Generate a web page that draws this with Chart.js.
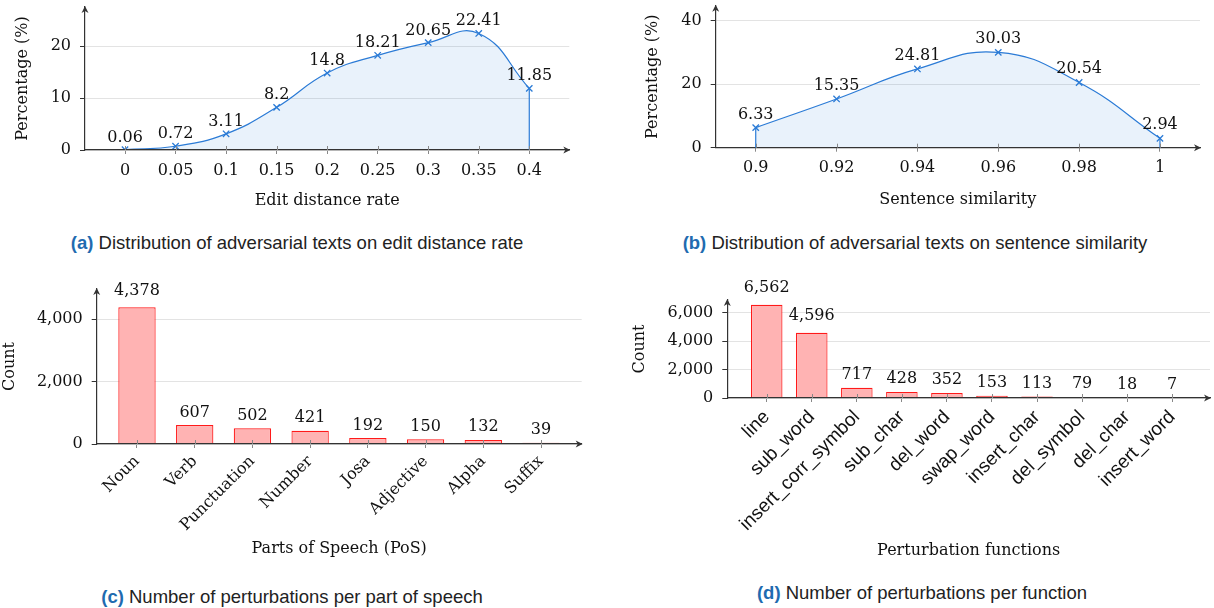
<!DOCTYPE html>
<html>
<head>
<meta charset="utf-8">
<title>Adversarial text statistics</title>
<script src="https://cdn.jsdelivr.net/npm/chart.js@4.4.1/dist/chart.umd.min.js"></script>
<style>
  html, body { margin: 0; padding: 0; background: #fff; }
  body { width: 1214px; height: 608px; position: relative; overflow: hidden; }
  canvas { position: absolute; }
  .caption {
    position: absolute;
    transform: translate(-50%, -50%);
    white-space: nowrap;
    font-family: "Liberation Sans", Arial, sans-serif;
    font-size: 18.5px;
    color: #222;
  }
  .caption b { color: #1f6bb0; }
</style>
</head>
<body>
<canvas id="chartA" width="600" height="225" style="left:0;top:0"></canvas>
<canvas id="chartB" width="604" height="225" style="left:610px;top:0"></canvas>
<canvas id="chartC" width="600" height="300" style="left:0;top:270px"></canvas>
<canvas id="chartD" width="604" height="300" style="left:610px;top:270px"></canvas>

<div class="caption" style="left:297px;top:243px"><b>(a)</b> Distribution of adversarial texts on edit distance rate</div>
<div class="caption" style="left:915px;top:243px"><b>(b)</b> Distribution of adversarial texts on sentence similarity</div>
<div class="caption" style="left:292px;top:597px"><b>(c)</b> Number of perturbations per part of speech</div>
<div class="caption" style="left:922px;top:593px"><b>(d)</b> Number of perturbations per function</div>

<script>
// (a) edit distance rate
const EDIT_RATES = [0, 0.05, 0.1, 0.15, 0.2, 0.25, 0.3, 0.35, 0.4];
const EDIT_PCT = [0.06, 0.72, 3.11, 8.2, 14.8, 18.21, 20.65, 22.41, 11.85];
const EDIT_Y_TICKS = [0, 10, 20];

// (b) sentence similarity
const SIM_VALUES = [0.9, 0.92, 0.94, 0.96, 0.98, 1];
const SIM_PCT = [6.33, 15.35, 24.81, 30.03, 20.54, 2.94];
const SIM_Y_TICKS = [0, 20, 40];

// (c) parts of speech
const POS_TAGS = ['Noun', 'Verb', 'Punctuation', 'Number', 'Josa', 'Adjective', 'Alpha', 'Suffix'];
const POS_COUNTS = [4378, 607, 502, 421, 192, 150, 132, 39];
const POS_Y_TICKS = [0, 2000, 4000];

// (d) perturbation functions
const FUNCS = ['line', 'sub_word', 'insert_corr_symbol', 'sub_char', 'del_word', 'swap_word',
               'insert_char', 'del_symbol', 'del_char', 'insert_word'];
const FUNC_COUNTS = [6562, 4596, 717, 428, 352, 153, 113, 79, 18, 7];
const FUNC_Y_TICKS = [0, 2000, 4000, 6000];

const SERIF = '"DejaVu Serif", "Liberation Serif", serif';
const SANS = '"Liberation Sans", Arial, sans-serif';
const BLUE = '#2b7bd6';
const BLUE_FILL = 'rgba(43,123,214,0.1)';
const RED = '#ff1a1a';
const RED_FILL = '#ffb3b3';
const AXIS = '#333';
const GRID = '#e3e3e3';
const TICK_FONT = { family: SERIF, size: 16 };
const TITLE_FONT = { family: SERIF, size: 16, lineHeight: 1.2 };

function arrowHead(ctx, x, y, angle) {
    ctx.save();
    ctx.translate(x, y);
    ctx.rotate(angle);
    ctx.beginPath();
    ctx.moveTo(1, 0);
    ctx.lineTo(-6, -3.5);
    ctx.lineTo(-4, 0);
    ctx.lineTo(-6, 3.5);
    ctx.closePath();
    ctx.fill();
    ctx.restore();
}

// arrows, crossing tick marks, closing edges of the areas and value labels
const decorations = {
    id: 'decorations',
    afterDraw(chart, args, opts) {
        const { ctx, chartArea: area, scales: { x, y } } = chart;
        const meta = chart.getDatasetMeta(0);
        const values = chart.data.datasets[0].data;
        ctx.save();

        if (opts.edges) {
            const pts = meta.data;
            ctx.strokeStyle = BLUE;
            ctx.lineWidth = 1.2;
            [pts[0], pts[pts.length - 1]].forEach(p => {
                ctx.beginPath();
                ctx.moveTo(p.x, p.y);
                ctx.lineTo(p.x, y.getPixelForValue(0));
                ctx.stroke();
            });
        }

        ctx.strokeStyle = '#888';
        ctx.lineWidth = 1;
        x.ticks.forEach(t => {
            const px = Math.round(x.getPixelForValue(t.value)) + 0.5;
            ctx.beginPath();
            ctx.moveTo(px, area.bottom - 4);
            ctx.lineTo(px, area.bottom);
            ctx.stroke();
        });

        ctx.fillStyle = AXIS;
        arrowHead(ctx, area.right, area.bottom, 0);
        arrowHead(ctx, area.left, area.top, -Math.PI / 2);

        ctx.font = '16px ' + SERIF;
        ctx.fillStyle = '#111';
        ctx.textAlign = 'center';
        ctx.textBaseline = 'alphabetic';
        meta.data.forEach((el, i) => {
            const v = values[i].y;
            const text = opts.thousands ? v.toLocaleString('en-US') : String(v);
            const lift = text.includes(',') ? opts.lift + 4 : opts.lift;
            ctx.fillText(text, el.x, el.y - lift);
        });
        ctx.restore();
    }
};

function buildOptions(cfg) {
    return {
        responsive: false,
        animation: false,
        events: [],
        layout: { padding: cfg.padding },
        plugins: {
            legend: { display: false },
            tooltip: { enabled: false },
            decorations: { edges: cfg.edges, thousands: cfg.thousands, lift: cfg.lift }
        },
        scales: {
            x: {
                type: 'linear',
                min: cfg.xMin,
                max: cfg.xMax,
                offset: false,
                afterBuildTicks: s => { s.ticks = cfg.xTicks.map(v => ({ value: v })); },
                afterFit: s => { s.height = cfg.xHeight; s.paddingLeft = 0; s.paddingRight = 0; },
                grid: { display: true, offset: false, drawOnChartArea: false, drawTicks: true, tickLength: 4, tickColor: '#888' },
                border: { display: true, color: AXIS, width: 1.2, z: 1 },
                ticks: {
                    font: cfg.xFont,
                    color: '#111',
                    padding: cfg.xPad,
                    minRotation: cfg.rotation,
                    maxRotation: cfg.rotation,
                    autoSkip: false,
                    callback: cfg.xLabel
                },
                title: { display: true, text: cfg.xTitle, font: TITLE_FONT, color: '#111', padding: { top: 0, bottom: cfg.xTitlePad } }
            },
            y: {
                min: 0,
                max: cfg.yMax,
                afterBuildTicks: s => { s.ticks = cfg.yTicks.map(v => ({ value: v })); },
                afterFit: s => { s.width = cfg.yWidth; s.paddingTop = 0; s.paddingBottom = 0; },
                grid: { color: GRID, lineWidth: 1, drawTicks: true, tickLength: 5, tickColor: AXIS },
                border: { display: true, color: AXIS, width: 1.2, z: 1 },
                ticks: {
                    font: TICK_FONT,
                    color: '#111',
                    padding: 9,
                    callback: v => cfg.thousands ? v.toLocaleString('en-US') : String(v)
                },
                title: { display: true, text: cfg.yTitle, font: TITLE_FONT, color: '#111', padding: { top: cfg.yTitlePad, bottom: 0 } }
            }
        }
    };
}

function areaDataset(xs, ys) {
    return {
        data: xs.map((x, i) => ({ x: x, y: ys[i] })),
        borderColor: BLUE,
        backgroundColor: BLUE_FILL,
        borderWidth: 1.2,
        fill: 'origin',
        tension: 0.45,
        pointStyle: 'crossRot',
        pointRadius: 4.5,
        pointBorderWidth: 1.3,
        pointBorderColor: BLUE,
        pointBackgroundColor: BLUE
    };
}

function barDataset(counts, pct) {
    return {
        data: counts.map((c, i) => ({ x: i, y: c })),
        backgroundColor: RED_FILL,
        borderColor: RED,
        borderWidth: 1.2,
        barPercentage: pct,
        categoryPercentage: 1
    };
}

// (a)
new Chart(document.getElementById('chartA'), {
    type: 'line',
    data: { datasets: [areaDataset(EDIT_RATES, EDIT_PCT)] },
    options: buildOptions({
        padding: { left: 0, top: 7, right: 30.7, bottom: 13 },
        xMin: -0.0396, xMax: 0.4396, xTicks: EDIT_RATES, xHeight: 62, xPad: 7,
        xFont: TICK_FONT, rotation: 0, xLabel: v => String(v),
        xTitle: 'Edit distance rate', xTitlePad: 1.4,
        yMax: 27.5, yTicks: EDIT_Y_TICKS, yWidth: 85, yTitle: 'Percentage (%)', yTitlePad: 12.9,
        edges: true, thousands: false, lift: 8
    }),
    plugins: [decorations]
});

// (b)
new Chart(document.getElementById('chartB'), {
    type: 'line',
    data: { datasets: [areaDataset(SIM_VALUES, SIM_PCT)] },
    options: buildOptions({
        padding: { left: 0, top: 4, right: 14, bottom: 15.3 },
        xMin: 0.8901, xMax: 1.0099, xTicks: SIM_VALUES, xHeight: 62, xPad: 7,
        xFont: TICK_FONT, rotation: 0, xLabel: v => String(v),
        xTitle: 'Sentence similarity', xTitlePad: 0.6,
        yMax: 44.7, yTicks: SIM_Y_TICKS, yWidth: 105.7, yTitle: 'Percentage (%)', yTitlePad: 32.9,
        edges: true, thousands: false, lift: 9
    }),
    plugins: [decorations]
});

// (c)
new Chart(document.getElementById('chartC'), {
    type: 'bar',
    data: { datasets: [barDataset(POS_COUNTS, 0.647)] },
    options: buildOptions({
        padding: { left: 0, top: 19, right: 18.3, bottom: 10 },
        xMin: -0.698, xMax: 7.705, xTicks: POS_TAGS.map((t, i) => i), xHeight: 116, xPad: 4,
        xFont: TICK_FONT, rotation: 45, xLabel: v => POS_TAGS[v],
        xTitle: 'Parts of Speech (PoS)', xTitlePad: 1.4,
        yMax: 4960, yTicks: POS_Y_TICKS, yWidth: 96.7, yTitle: 'Count', yTitlePad: 0.4,
        edges: false, thousands: true, lift: 8.5
    }),
    plugins: [decorations]
});

// (d)
new Chart(document.getElementById('chartD'), {
    type: 'bar',
    data: { datasets: [barDataset(FUNC_COUNTS, 0.70)] },
    options: buildOptions({
        padding: { left: 0, top: 30, right: 4, bottom: 10 },
        xMin: -0.875, xMax: 9.84, xTicks: FUNCS.map((f, i) => i), xHeight: 162, xPad: 4,
        xFont: { family: SANS, size: 19 }, rotation: 45, xLabel: v => FUNCS[v],
        xTitle: 'Perturbation functions', xTitlePad: 0,
        yMax: 6895, yTicks: FUNC_Y_TICKS, yWidth: 117.3, yTitle: 'Count', yTitlePad: 20.4,
        edges: false, thousands: true, lift: 8.5
    }),
    plugins: [decorations]
});
</script>
</body>
</html>
